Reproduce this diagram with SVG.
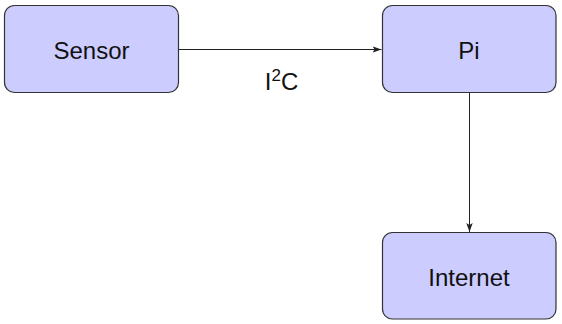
<svg xmlns="http://www.w3.org/2000/svg" width="562" height="324" viewBox="0 0 562 324">
<style>
.box{fill:#ccccff;stroke:#333333;stroke-width:1.2}
.lbl{font-family:"Liberation Sans",Arial,sans-serif;font-size:24px;fill:#111111;text-anchor:middle}
.edge{stroke:#222222;stroke-width:1;fill:none}
</style>
<defs>
<marker id="ah" markerWidth="10" markerHeight="8" refX="9" refY="4" orient="auto" markerUnits="userSpaceOnUse">
<path d="M0,0.8 L9,4 L0,7.2 L2,4 Z" fill="#222222"/>
</marker>
</defs>
<rect width="562" height="324" fill="#ffffff"/>
<g id="edges">
<line class="edge" x1="179" y1="49.5" x2="381.5" y2="49.5" marker-end="url(#ah)"/>
<text class="lbl" x="281.5" y="90">I<tspan font-size="17" dy="-9">2</tspan><tspan dy="9">C</tspan></text>
<line class="edge" x1="469.5" y1="93" x2="469.5" y2="232" marker-end="url(#ah)"/>
</g>
<g id="sensor">
<rect class="box" x="4.5" y="5.5" width="174" height="87" rx="10"/>
<text class="lbl" x="91.5" y="58.5">Sensor</text>
</g>
<g id="pi">
<rect class="box" x="382.5" y="5.5" width="173.5" height="87" rx="10"/>
<text class="lbl" x="469" y="58.5">Pi</text>
</g>
<g id="internet">
<rect class="box" x="382.5" y="232.5" width="173.5" height="86.5" rx="10"/>
<text class="lbl" x="469" y="286">Internet</text>
</g>
</svg>
